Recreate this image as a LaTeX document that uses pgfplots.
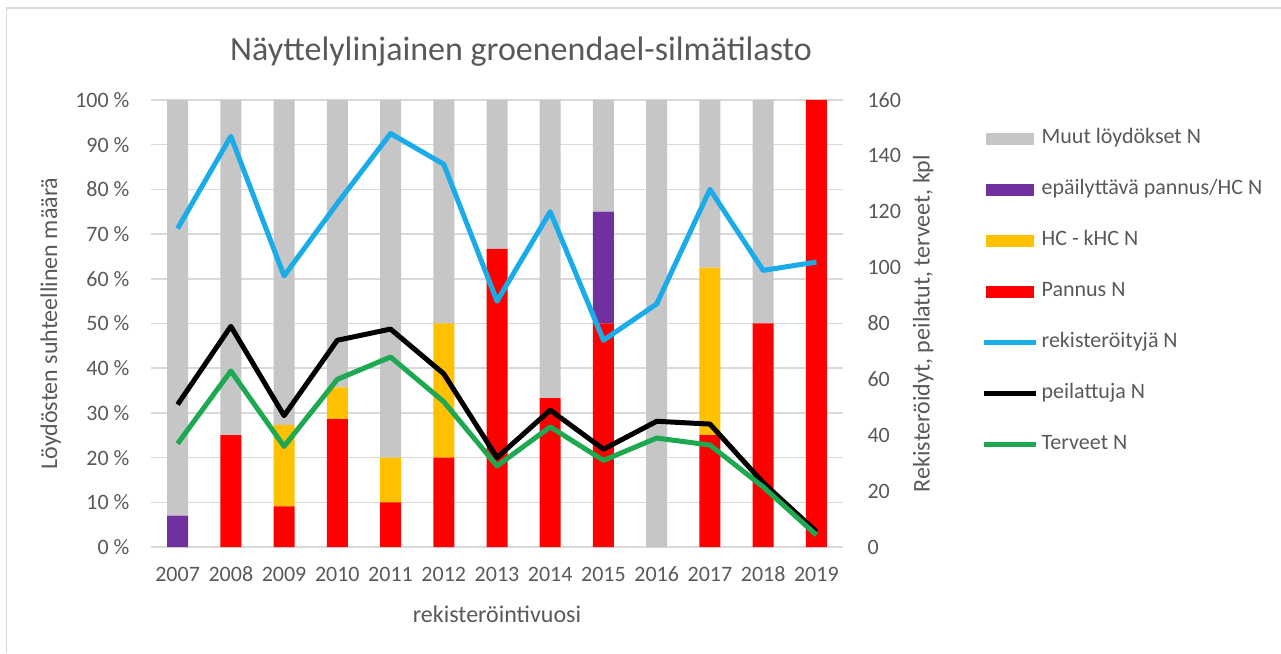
\documentclass[border=0pt]{standalone}
\usepackage{pgfplots}
\pgfplotsset{compat=1.18}
\usepackage{fontspec}
\setmainfont{Carlito}
\definecolor{muut}{HTML}{C6C6C6}
\definecolor{epa}{HTML}{7030A0}
\definecolor{hc}{HTML}{FFC000}
\definecolor{pan}{HTML}{FF0000}
\definecolor{reg}{HTML}{1AACE8}
\definecolor{ter}{HTML}{1DA851}
\definecolor{txt}{HTML}{595959}
\definecolor{gridc}{HTML}{D9D9D9}
\pgfplotsset{
  barleg/.style={legend image code/.code={\fill[##1, draw=none] (0pt,-6pt) rectangle (48pt,6pt);}},
  lineleg/.style={legend image code/.code={\draw[##1] (-2pt,0pt) -- (50pt,0pt);}},
}
\begin{document}
\begin{tikzpicture}[x=1pt,y=1pt]
\path[use as bounding box] (0,0) rectangle (1281,653);
\draw[gridc, line width=1.5pt] (6.5,0) -- (6.5,645) -- (1281,645);
\node[txt, font=\fontsize{34}{40}\selectfont] at (521,601) {Näyttelylinjainen groenendael-silmätilasto};
\begin{axis}[
  at={(151pt,106pt)}, anchor=south west,
  scale only axis, width=692pt, height=447pt,
  xmin=-0.5, xmax=12.5, ymin=0, ymax=100,
  ybar stacked, bar width=21pt,
  xtick={0,...,12},
  xticklabels={2007,2008,2009,2010,2011,2012,2013,2014,2015,2016,2017,2018,2019},
  ytick={0,10,...,100},
  yticklabels={0 \%,10 \%,20 \%,30 \%,40 \%,50 \%,60 \%,70 \%,80 \%,90 \%,100 \%},
  major tick length=0pt,
  axis line style={draw=none},
  ymajorgrids, major grid style={gridc, line width=1.5pt},
  tick label style={txt, font=\fontsize{22}{26}\selectfont},
  yticklabel style={xshift=-18pt},
  xticklabel style={yshift=-16pt, text height=15pt, text depth=0pt},
  xlabel={rekisteröintivuosi},
  ylabel={Löydösten suhteellinen määrä},
  label style={txt, font=\fontsize{24}{28}\selectfont},
  xlabel style={at={(axis description cs:0.5,-0.15)}, anchor=center},
  ylabel style={at={(axis description cs:-0.145,0.5)}, anchor=center},
  every axis plot/.append style={draw=none},
]
\addplot[fill=pan] coordinates {(0,0) (1,25) (2,9.1) (3,28.6) (4,10) (5,20) (6,66.7) (7,33.3) (8,50) (9,0) (10,25) (11,50) (12,100)};
\addplot[fill=hc] coordinates {(0,0) (1,0) (2,18.2) (3,7.1) (4,10) (5,30) (6,0) (7,0) (8,0) (9,0) (10,37.5) (11,0) (12,0)};
\addplot[fill=epa] coordinates {(0,7) (1,0) (2,0) (3,0) (4,0) (5,0) (6,0) (7,0) (8,25) (9,0) (10,0) (11,0) (12,0)};
\addplot[fill=muut] coordinates {(0,93) (1,75) (2,72.7) (3,64.3) (4,80) (5,50) (6,33.3) (7,66.7) (8,25) (9,100) (10,37.5) (11,50) (12,0)};
\end{axis}
\begin{axis}[
  at={(151pt,106pt)}, anchor=south west,
  scale only axis, width=692pt, height=447pt,
  xmin=-0.5, xmax=12.5, ymin=0, ymax=160,
  hide x axis,
  axis y line*=right,
  y axis line style={draw=none},
  ytick={0,20,...,160},
  major tick length=0pt,
  /pgf/number format/assume math mode=true,
  tick label style={txt, font=\fontsize{22}{26}\selectfont},
  yticklabel style={xshift=21pt},
  ylabel={Rekisteröidyt, peilatut, terveet, kpl},
  label style={txt, font=\fontsize{24}{28}\selectfont},
  ylabel style={at={(axis description cs:1.116,0.5)}, anchor=center},
  every axis plot/.append style={line width=5pt, line join=round, mark=none},
  legend style={at={(axis description cs:1.2,0.939)}, anchor=north west, draw=none, fill=none,
    inner sep=0pt, row sep=28pt, font=\fontsize{22}{26}\selectfont, text=txt,
    nodes={text height=14pt, text depth=5pt, inner ysep=2pt, inner xsep=3pt}},
  legend cell align=left,
]
\addlegendimage{barleg, fill=muut}
\addlegendentry{Muut löydökset N}
\addlegendimage{barleg, fill=epa}
\addlegendentry{epäilyttävä pannus/HC N}
\addlegendimage{barleg, fill=hc}
\addlegendentry{HC - kHC N}
\addlegendimage{barleg, fill=pan}
\addlegendentry{Pannus N}
\addplot[reg, lineleg] coordinates {(0,114) (1,147) (2,97) (3,123) (4,148) (5,137) (6,88) (7,120) (8,74) (9,87) (10,128) (11,99) (12,102)};
\addlegendentry{rekisteröityjä N}
\addplot[black, lineleg] coordinates {(0,51) (1,79) (2,47) (3,74) (4,78) (5,62) (6,32) (7,49) (8,35) (9,45) (10,44) (11,23) (12,5.5)};
\addlegendentry{peilattuja N}
\addplot[ter, lineleg] coordinates {(0,37) (1,63) (2,36) (3,60) (4,68) (5,52) (6,29) (7,43) (8,31) (9,39) (10,36.5) (11,21.5) (12,4.3)};
\addlegendentry{Terveet N}
\end{axis}
\end{tikzpicture}
\end{document}
